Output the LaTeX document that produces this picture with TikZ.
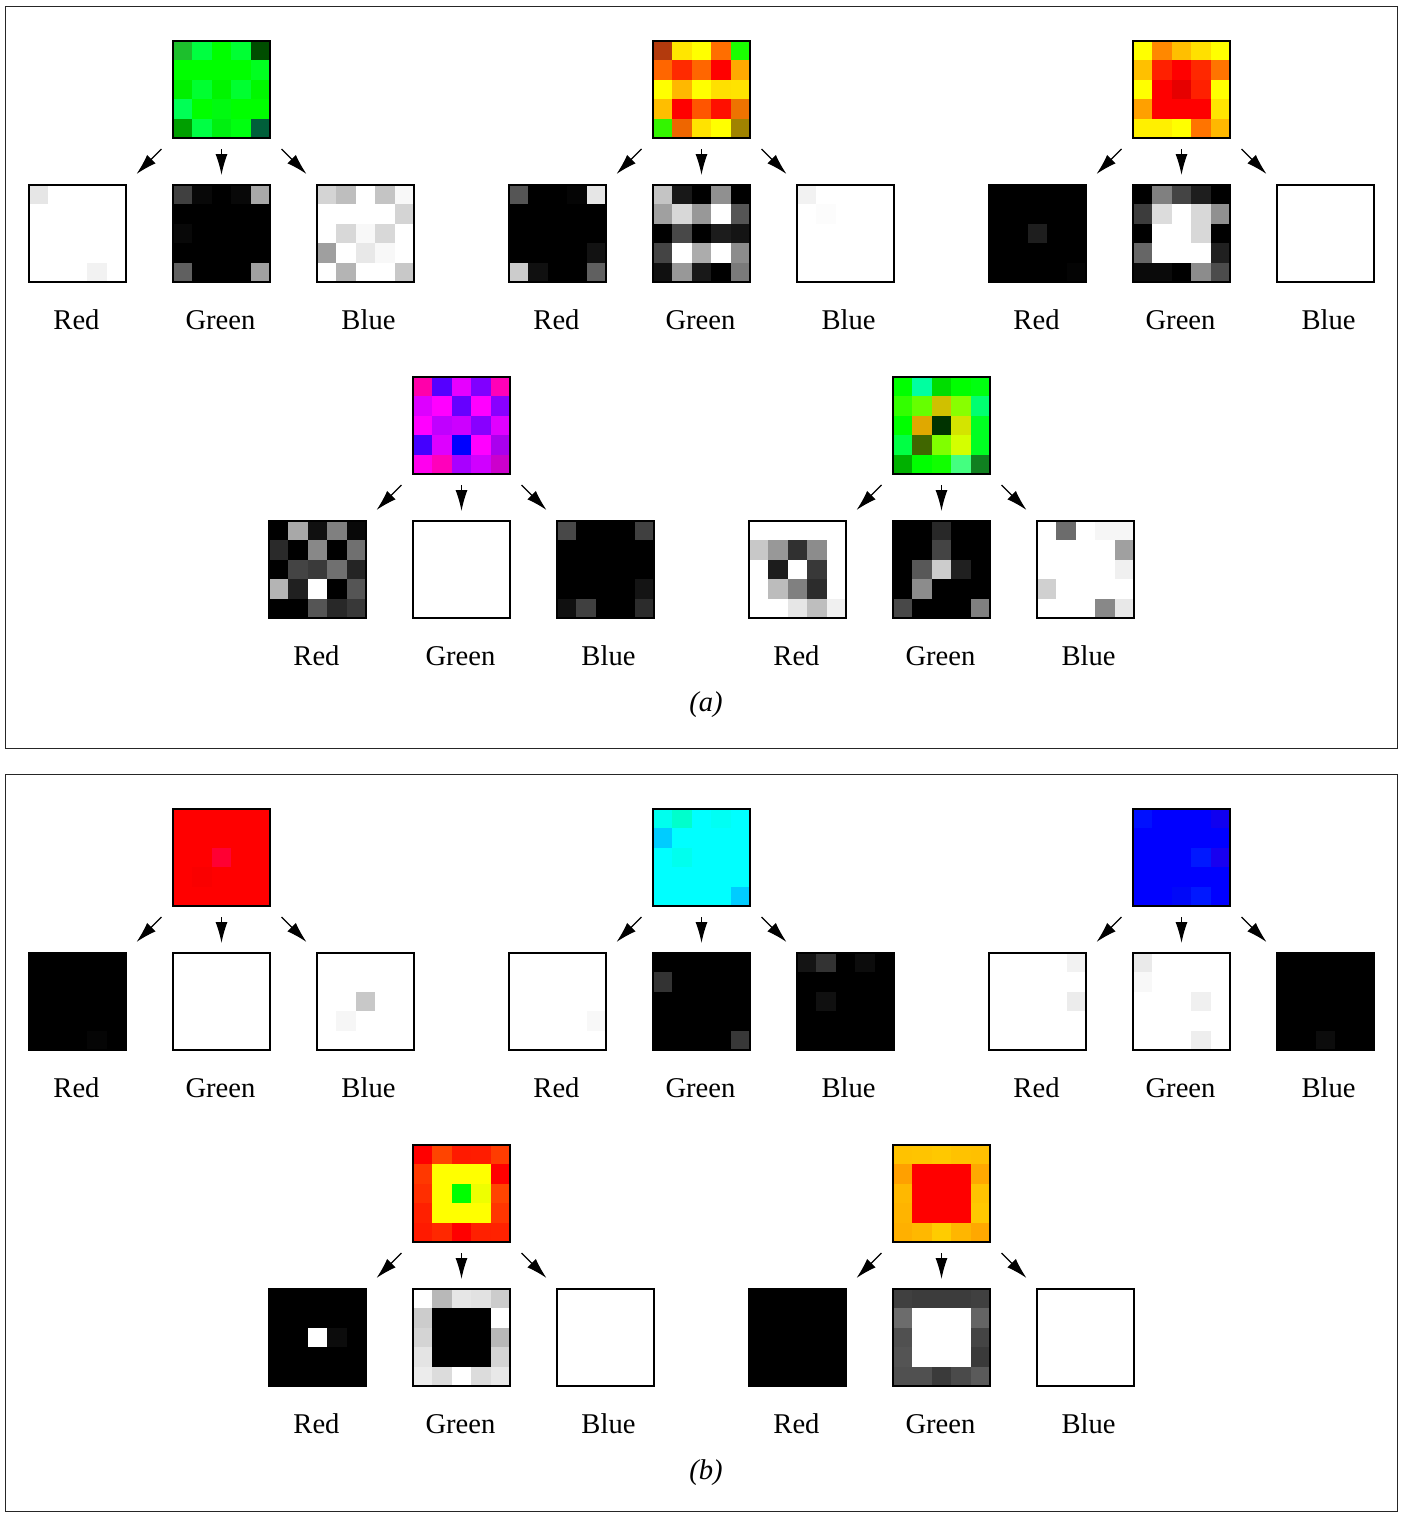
\documentclass[tikz,border=0pt]{standalone}
\usepackage{fontspec}
\setmainfont{Liberation Serif}
\usetikzlibrary{arrows.meta}
\tikzset{
  frame/.style={draw=black,line width=1.5pt,minimum size=97pt,inner sep=0pt,outer sep=0pt},
  lbl/.style={font=\fontsize{28.6}{34}\selectfont,inner sep=0pt,anchor=base},
  arr/.style={line width=1.2pt,-{Latex[length=21pt,width=12pt]}},
  panel/.style={draw=black!85,line width=1pt}
}
\newcommand\pixgrid[3]{%
  \foreach \pv [count=\i from 0] in {#3} {%
    \pgfmathtruncatemacro\cx{mod(\i,5)}%
    \pgfmathtruncatemacro\cy{div(\i,5)}%
    \edef\tmp{\noexpand\definecolor{cellc}{HTML}{\pv}}\tmp
    \fill[cellc] ({#1+\cx*19.4},{#2+\cy*19.4}) rectangle ++(19.9,19.9);
  }}
\newcommand\graygrid[3]{%
  \foreach \pv [count=\i from 0] in {#3} {%
    \pgfmathtruncatemacro\cx{mod(\i,5)}%
    \pgfmathtruncatemacro\cy{div(\i,5)}%
    \edef\tmp{\noexpand\definecolor{cellc}{HTML}{\pv\pv\pv}}\tmp
    \fill[cellc] ({#1+\cx*19.4},{#2+\cy*19.4}) rectangle ++(19.9,19.9);
  }}
% #1 name, #2 x0, #3 y0 of colour grid, #4 colour, #5 red, #6 green, #7 blue
\newcommand\chgroup[7]{%
  \pixgrid{#2}{#3}{#4}%
  \node[frame] (#1c) at ({#2+48.5},{#3+48.5}) {};
  \graygrid{#2-144}{#3+144}{#5}%
  \node[frame] (#1r) at ({#2-95.5},{#3+192.5}) {};
  \graygrid{#2}{#3+144}{#6}%
  \node[frame] (#1g) at ({#2+48.5},{#3+192.5}) {};
  \graygrid{#2+144}{#3+144}{#7}%
  \node[frame] (#1b) at ({#2+192.5},{#3+192.5}) {};
  \node[lbl] (#1rl) at ({#2-96.5},{#3+288.5}) {Red};
  \node[lbl] (#1gl) at ({#2+47.5},{#3+288.5}) {Green};
  \node[lbl] (#1bl) at ({#2+195.5},{#3+288.5}) {Blue};
  \coordinate (#1p1) at ({#2+48.5-60},{#3+108});
  \coordinate (#1q1) at ({#2+48.5-85},{#3+133});
  \coordinate (#1p2) at ({#2+48.5},{#3+108});
  \coordinate (#1q2) at ({#2+48.5},{#3+134});
  \coordinate (#1p3) at ({#2+48.5+60},{#3+108});
  \coordinate (#1q3) at ({#2+48.5+85},{#3+133});
  \draw[arr] (#1p1) -- (#1q1);
  \draw[arr] (#1p2) -- (#1q2);
  \draw[arr] (#1p3) -- (#1q3);
}
\begin{document}
\begin{tikzpicture}[x=1pt,y=-1pt]
\useasboundingbox (0,0) rectangle (1401,1513);
\fill[white] (0,0) rectangle (1401,1513);
\draw[panel] (5,6) rectangle (1397,748);
\draw[panel] (5,774) rectangle (1397,1511);
% ---------- panel (a)
\chgroup{ga}{173}{41}{%
1DBF2D,00FF40,00FF00,00FF33,004D00,%
00FF00,00FF00,00FF00,00FF00,00FF20,%
00F000,00FF30,00F500,00FF30,00F800,%
00FF55,00FF00,00FA10,00FF00,00FF00,%
009F00,00FF44,00F010,00FF10,005F3A}{%
E6,FF,FF,FF,FF,FF,FF,FF,FF,FF,FF,FF,FF,FF,FF,FF,FF,FF,FF,FF,FF,FF,FF,F2,FF}{%
40,08,00,08,A8,00,00,00,00,00,08,00,00,00,00,00,00,00,00,00,60,00,00,00,A0}{%
D4,BE,FF,C4,F8,FF,FF,FF,FF,D4,FF,D8,F8,D8,FF,9F,FF,E8,F8,FF,FF,B4,FF,FF,C8}
\chgroup{gb}{653}{41}{%
B33A0D,FFE600,FFFF00,FF6E00,1AFF00,%
FF6600,FF2A00,FF6600,FF0000,FFA800,%
FFFF00,FFB800,FFFF00,FFE000,FFE300,%
FFBE00,FF0000,FF5500,FF0F00,EE7300,%
33F500,EE6600,FFE300,FFFF00,A08300}{%
55,00,00,05,E6,00,00,00,00,00,00,00,00,00,00,00,00,00,00,12,CC,10,00,00,60}{%
C4,18,00,90,00,A0,D8,98,FF,55,00,48,00,1C,14,44,FF,AC,FF,8C,10,98,18,00,7A}{%
F2,FF,FF,FF,FF,FF,FC,FF,FF,FF,FF,FF,FF,FF,FF,FF,FF,FF,FF,FF,FF,FF,FF,FF,FF}
\chgroup{gc}{1133}{41}{%
FFFF00,FF8800,FFBF00,FFE000,FFFF00,%
FFC000,FF2000,FF0000,FF2800,FF7400,%
FFFF00,FF0000,E60000,FF2000,FFFF00,%
FFA000,FF0000,FF0000,FF0000,FFE400,%
FFF000,FFF000,FFFF00,FF7400,FFB800}{%
00,00,00,00,00,00,00,00,00,00,00,00,1E,00,00,00,00,00,00,00,00,00,00,00,04}{%
00,80,44,1E,00,3C,DC,FF,D8,90,00,FF,FF,D8,00,66,FF,FF,FF,20,0A,0A,00,8C,4C}{%
FF,FF,FF,FF,FF,FF,FF,FF,FF,FF,FF,FF,FF,FF,FF,FF,FF,FF,FF,FF,FF,FF,FF,FF,FF}
\chgroup{gd}{413}{377}{%
FF00AA,5500FF,E600FF,8000FF,FF00B8,%
DD00FF,FF00FF,6600FF,FF00FF,8800FF,%
FF00FF,C000FF,CC00FF,8800FF,E000FF,%
4400FF,DD00FF,0000FF,FF00FF,AA00EE,%
FF00EE,FF00BB,A800FF,D000FF,CC00CC}{%
00,A8,10,80,08,2A,00,88,00,70,00,44,3A,70,24,B4,20,FF,00,55,00,00,55,28,38}{%
FF,FF,FF,FF,FF,FF,FF,FF,FF,FF,FF,FF,FF,FF,FF,FF,FF,FF,FF,FF,FF,FF,FF,FF,FF}{%
48,00,00,00,40,00,00,00,00,00,00,00,00,00,00,00,00,00,00,14,10,40,00,00,2C}
\chgroup{ge}{893}{377}{%
00FF00,00FFA0,00DD00,00FF00,00FF10,%
33FF00,66FF00,D0C000,88FF00,00FF70,%
00FF00,E0A800,003300,D4E400,00FF22,%
00FF44,406600,80FF00,D4FF00,00FF22,%
00B000,00FF00,11FF00,44FF80,108020}{%
FF,FF,FF,FF,FF,C8,98,30,8C,FF,FF,1C,FF,38,FF,FF,BC,80,2C,FF,FF,FF,E6,BE,F0}{%
00,00,28,00,00,00,00,44,00,00,00,58,CC,20,00,00,8C,00,00,00,48,00,00,00,80}{%
FF,6C,FF,F6,F6,FF,FF,FF,FF,A0,FF,FF,FF,FF,F0,D0,FF,FF,FF,FF,FF,FF,FF,88,E8}
\node[lbl,anchor=center,font=\fontsize{28.6}{34}\selectfont\itshape] (capa) at (706,705) {(a)};
% ---------- panel (b)
\chgroup{gf}{173}{809}{%
FF0000,FF0000,FF0000,FF0000,FF0000,%
FF0000,FF0000,FF0000,FF0000,FF0000,%
FF0000,FF0000,FF0033,FF0000,FF0000,%
FF0000,FA0000,FF0000,FF0000,FF0000,%
FF0000,FF0000,FF0000,FF0000,FF0000}{%
00,00,00,00,00,00,00,00,00,00,00,00,00,00,00,00,00,00,00,00,00,00,00,05,00}{%
FF,FF,FF,FF,FF,FF,FF,FF,FF,FF,FF,FF,FF,FF,FF,FF,FF,FF,FF,FF,FF,FF,FF,FF,FF}{%
FF,FF,FF,FF,FF,FF,FF,FF,FF,FF,FF,FF,C8,FF,FF,FF,F6,FF,FF,FF,FF,FF,FF,FF,FF}
\chgroup{gg}{653}{809}{%
00FFEE,00FFCC,00FFFF,00FFF4,00FFFF,%
00CCFF,00FFFF,00FFFF,00FFFF,00FFFF,%
00FFFF,00FFEE,00FFFF,00FFFF,00FFFF,%
00FFFF,00FFFF,00FFFF,00FFFF,00FFFF,%
00FFFF,00FFFF,00FFFF,00FFFF,00CCFF}{%
FF,FF,FF,FF,FF,FF,FF,FF,FF,FF,FF,FF,FF,FF,FF,FF,FF,FF,FF,F8,FF,FF,FF,FF,FF}{%
00,00,00,00,00,33,00,00,00,00,00,00,00,00,00,00,00,00,00,00,00,00,00,00,38}{%
14,33,00,0C,00,00,00,00,00,00,00,10,00,00,00,00,00,00,00,00,00,00,00,00,00}
\chgroup{gh}{1133}{809}{%
0010FF,0000FF,0000FF,0000FF,1000F0,%
0000FF,0000FF,0000FF,0000FF,0000FF,%
0000FF,0000FF,0000FF,0018FF,1800F0,%
0000FF,0000FF,0000FF,0000FF,0000FF,%
0000FF,0000FF,0008F8,0018FF,0000FF}{%
FF,FF,FF,FF,F2,FF,FF,FF,FF,FF,FF,FF,FF,FF,EC,FF,FF,FF,FF,FF,FF,FF,FF,FF,FF}{%
EA,FF,FF,FF,FF,F8,FF,FF,FF,FF,FF,FF,FF,F0,FF,FF,FF,FF,FF,FF,FF,FF,FF,EE,FF}{%
00,00,00,00,00,00,00,00,00,00,00,00,00,00,00,00,00,00,00,00,00,00,0C,00,00}
\chgroup{gi}{413}{1145}{%
FF0000,FF4400,FF1A00,FF1C00,FF3C00,%
FF3800,FFFF00,FFFF00,FFFF00,FF0000,%
FF2E00,FFFF00,00FF00,EEFF00,FF4400,%
FF2000,FFFF00,FFFF00,FFFF00,FF3600,%
FF1A00,FF2800,FF0000,FF2000,FF2200}{%
00,00,00,00,00,00,00,00,00,00,00,00,FF,0C,00,00,00,00,00,00,00,00,00,00,00}{%
FF,B8,E6,E2,CC,CC,00,00,00,FF,D4,00,00,00,B8,E4,00,00,00,D4,EC,DC,FF,DC,E8}{%
FF,FF,FF,FF,FF,FF,FF,FF,FF,FF,FF,FF,FF,FF,FF,FF,FF,FF,FF,FF,FF,FF,FF,FF,FF}
\chgroup{gj}{893}{1145}{%
FFC200,FFC400,FFC800,FFC200,FFC000,%
FFA000,FF0000,FF0000,FF0000,FFA800,%
FFB800,FF0000,FF0000,FF0000,FFC400,%
FFB400,FF0000,FF0000,FF0000,FFC800,%
FFB000,FFB800,FFCC00,FFB600,FFA800}{%
00,00,00,00,00,00,00,00,00,00,00,00,00,00,00,00,00,00,00,00,00,00,00,00,00}{%
40,3C,3C,3C,40,6C,FF,FF,FF,64,50,FF,FF,FF,44,54,FF,FF,FF,3A,50,50,3A,4A,5A}{%
FF,FF,FF,FF,FF,FF,FF,FF,FF,FF,FF,FF,FF,FF,FF,FF,FF,FF,FF,FF,FF,FF,FF,FF,FF}
\node[lbl,anchor=center,font=\fontsize{28.6}{34}\selectfont\itshape] (capb) at (706,1473) {(b)};
\end{tikzpicture}
\end{document}
